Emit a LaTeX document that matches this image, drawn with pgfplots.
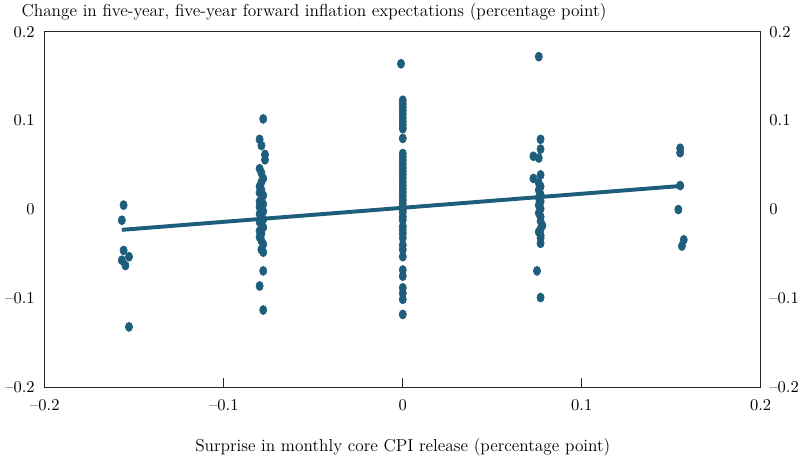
\documentclass[border=0pt]{standalone}
\usepackage{pgfplots}
\pgfplotsset{compat=1.18}
\definecolor{dotc}{RGB}{30,94,124}
\begin{document}
\begin{tikzpicture}
\begin{axis}[
 scale only axis, width=455pt, height=226pt,
 xmin=-0.2,xmax=0.2,ymin=-0.2,ymax=0.2,
 xtick={-0.2,-0.1,0,0.1,0.2},
 xticklabels={\textendash0.2,\textendash0.1,0,0.1,0.2},
 ytick={-0.2,-0.1,0,0.1,0.2},
 yticklabels={\textendash0.2,\textendash0.1,0,0.1,0.2},
 ytick style={draw=none},
 xtick pos=bottom, tick align=inside, major tick length=6pt,
 xtick style={black!85, line width=0.6pt},
 axis line style={black!85, line width=0.6pt},
 tick label style={font=\fontsize{10.5}{12}\selectfont},
 xticklabel style={yshift=-4pt},
 yticklabel style={xshift=-3pt},
 xlabel={Surprise in monthly core CPI release (percentage point)},
 xlabel style={font=\fontsize{11}{13}\selectfont, yshift=-11pt},
 title={Change in five-year, five-year forward inflation expectations (percentage point)},
 title style={font=\fontsize{11}{13}\selectfont, at={(0,1)}, anchor=south west, xshift=-17pt, yshift=-1pt, inner sep=2pt},
]
\addplot[only marks, mark=*, mark size=2.3pt, color=dotc, mark options={yscale=1.25, draw=dotc, fill=dotc}] coordinates {
(-0.156,0.005) (-0.157,-0.012) (-0.156,-0.046) (-0.153,-0.053) (-0.157,-0.057) (-0.155,-0.063) (-0.153,-0.132)
(-0.078,0.102) (-0.080,0.079) (-0.079,0.072) (-0.077,0.062) (-0.077,0.056) (-0.080,0.046) (-0.079,0.041) (-0.078,0.035) (-0.079,0.031) (-0.080,0.026) (-0.079,0.022) (-0.080,0.019) (-0.078,0.016) (-0.079,0.012) (-0.080,0.009) (-0.078,0.006) (-0.080,0.003) (-0.079,0.001) (-0.078,-0.002) (-0.080,-0.005) (-0.079,-0.008) (-0.078,-0.011) (-0.080,-0.014) (-0.079,-0.017) (-0.078,-0.020) (-0.080,-0.024) (-0.079,-0.027) (-0.080,-0.031) (-0.079,-0.035) (-0.078,-0.039) (-0.079,-0.045) (-0.078,-0.048) (-0.078,-0.069) (-0.080,-0.086) (-0.078,-0.113)
(-0.001,0.164) (0,0.123) (0,0.119) (0,0.115) (0,0.111) (0,0.107) (0,0.103) (0,0.099) (0,0.095) (0,0.091) (0,0.080) (0,0.063) (0,0.059) (0,0.055) (0,0.051) (0,0.047) (0,0.043) (0,0.039) (0,0.035) (0,0.031) (0,0.027) (0,0.023) (0,0.019) (0,0.015) (0,0.011) (0,0.007) (0,0.003) (0,0.000) (0,-0.003) (0,-0.008) (0,-0.012) (0,-0.019) (0,-0.023) (0,-0.027) (0,-0.032) (0,-0.040) (0,-0.045) (0,-0.053) (0,-0.068) (0,-0.075) (0,-0.088) (0,-0.094) (0,-0.101) (0,-0.118)
(0.076,0.172) (0.077,0.079) (0.077,0.068) (0.073,0.060) (0.076,0.058) (0.073,0.035) (0.077,0.039) (0.076,0.030) (0.077,0.026) (0.076,0.022) (0.077,0.017) (0.076,0.013) (0.077,0.009) (0.076,0.005) (0.077,0.001) (0.076,-0.004) (0.077,-0.008) (0.077,-0.013) (0.078,-0.018) (0.077,-0.022) (0.076,-0.025) (0.077,-0.029) (0.077,-0.032) (0.077,-0.038) (0.075,-0.069) (0.077,-0.099)
(0.155,0.069) (0.155,0.064) (0.155,0.027) (0.154,0.000) (0.157,-0.034) (0.156,-0.041)
};
\addplot[color=dotc, line width=2.5pt] coordinates {(-0.157,-0.0228) (0.157,0.0268)};
\end{axis}
\begin{axis}[
 scale only axis, width=455pt, height=226pt,
 xmin=-0.2,xmax=0.2,ymin=-0.2,ymax=0.2,
 axis x line=none, axis y line*=right,
 y axis line style={draw=none},
 ytick={-0.2,-0.1,0,0.1,0.2},
 yticklabels={\textendash0.2,\textendash0.1,0,0.1,0.2},
 ytick style={draw=none},
 tick label style={font=\fontsize{10.5}{12}\selectfont},
 yticklabel style={xshift=2pt},
]
\end{axis}
\end{tikzpicture}
\end{document}
